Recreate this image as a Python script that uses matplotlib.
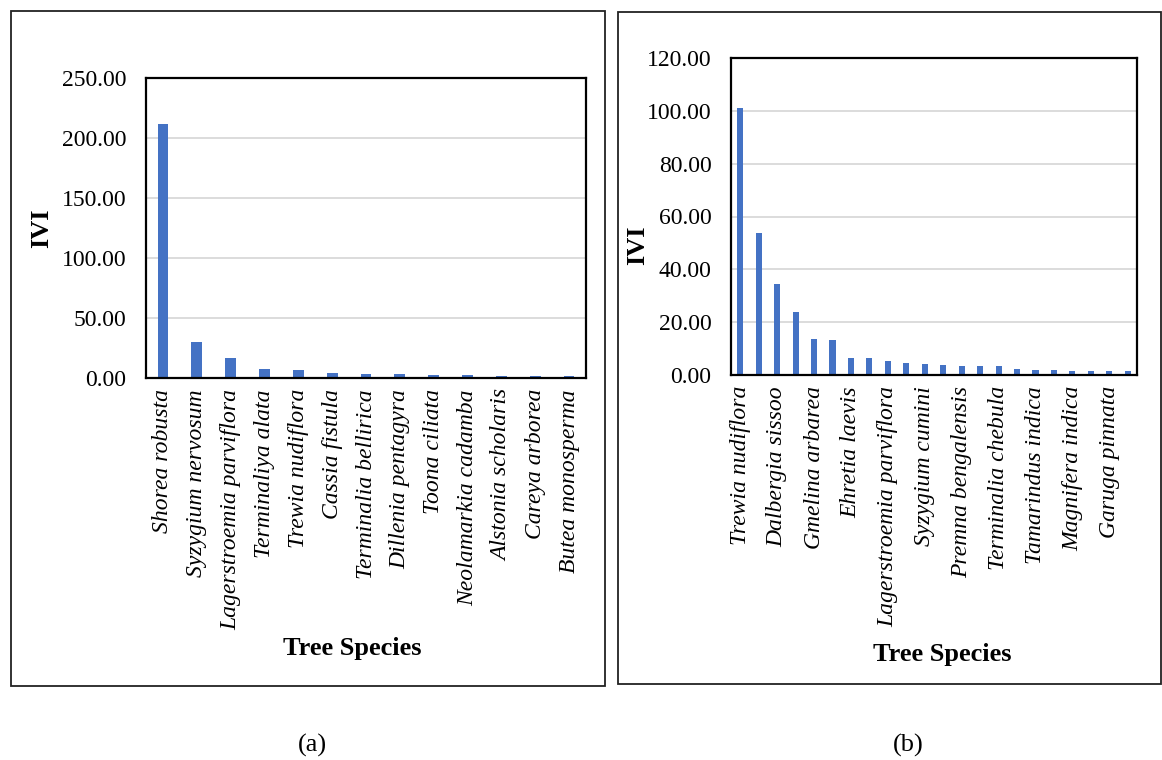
import matplotlib
matplotlib.use("Agg")
import matplotlib.pyplot as plt
from matplotlib.patches import Rectangle

plt.rcParams['font.family'] = ['Liberation Serif', 'DejaVu Serif']

species_a = ["Shorea robusta", "Syzygium nervosum", "Lagerstroemia parviflora",
             "Terminaliya alata", "Trewia nudiflora", "Cassia fistula",
             "Terminalia bellirica", "Dillenia pentagyra", "Toona ciliata",
             "Neolamarkia cadamba", "Alstonia scholaris", "Careya arborea",
             "Butea monosperma"]
ivi_a = [211.7, 30.1, 16.7, 7.8, 6.3, 4.5, 3.7, 3.7, 2.6, 2.2, 1.9, 1.9, 1.9]

# panel (b): 22 bars, only every other category label is shown
labels_b = ["Trewia nudiflora", "Dalbergia sissoo", "Gmelina arbarea",
            "Ehretia laevis", "Lagerstroemia parviflora", "Syzygium cumini",
            "Premna bengalensis", "Terminalia chebula", "Tamarindus indica",
            "Magnifera indica", "Garuga pinnata"]
ivi_b = [100.9, 53.8, 34.4, 23.7, 13.8, 13.3, 6.6, 6.3, 5.4, 4.4, 4.2,
         3.7, 3.5, 3.3, 3.3, 2.2, 1.8, 1.8, 1.6, 1.4, 1.4, 1.4]

W, H = 1162, 760
fig = plt.figure(figsize=(W/100, H/100), dpi=100)

def fx(px): return px / W
def fy(py): return 1 - py / H

# outer frames
fig.patches.append(Rectangle((fx(11), fy(686)), fx(605) - fx(11), fy(11) - fy(686),
                             transform=fig.transFigure, fill=False, lw=1.3, ec='#222222'))
fig.patches.append(Rectangle((fx(618), fy(684)), fx(1161) - fx(618), fy(12) - fy(684),
                             transform=fig.transFigure, fill=False, lw=1.3, ec='#222222'))

BAR = '#4472C4'
GRID = '#D9D9D9'

def style(ax, ymax, step):
    ax.set_ylim(0, ymax)
    ticks = [i * step for i in range(int(round(ymax / step)) + 1)]
    ax.set_yticks(ticks)
    ax.set_yticklabels([f"{t:.2f}" for t in ticks], fontsize=17)
    ax.yaxis.grid(True, color=GRID, lw=1.3)
    ax.set_axisbelow(True)
    ax.tick_params(axis='y', length=0, pad=14)
    ax.tick_params(axis='x', length=0, pad=8)
    for s in ax.spines.values():
        s.set_linewidth(1.6)
        s.set_color('black')

# panel (a)
ax1 = fig.add_axes([fx(146), fy(378), fx(586) - fx(146), fy(78) - fy(378)])
x1 = list(range(len(ivi_a)))
ax1.bar(x1, ivi_a, width=0.32, color=BAR)
ax1.set_xlim(-0.5, len(ivi_a) - 0.5)
style(ax1, 250, 50)
ax1.set_xticks(x1)
ax1.set_xticklabels(species_a, rotation=90, fontsize=17, style='italic')
fig.text(fx(42), fy(228), "IVI", rotation=90, fontsize=19, fontweight='bold',
         ha='center', va='center')
fig.text(fx(352), fy(648), "Tree Species", fontsize=19, fontweight='bold',
         ha='center', va='center')

# panel (b)
ax2 = fig.add_axes([fx(731), fy(375), fx(1137) - fx(731), fy(58) - fy(375)])
x2 = list(range(len(ivi_b)))
ax2.bar(x2, ivi_b, width=0.33, color=BAR)
ax2.set_xlim(-0.5, len(ivi_b) - 0.5)
style(ax2, 120, 20)
ax2.set_xticks(x2[::2])
ax2.set_xticklabels(labels_b, rotation=90, fontsize=17, style='italic')
fig.text(fx(638), fy(245), "IVI", rotation=90, fontsize=19, fontweight='bold',
         ha='center', va='center')
fig.text(fx(942), fy(655), "Tree Species", fontsize=19, fontweight='bold',
         ha='center', va='center')

fig.text(fx(312), fy(745), "(a)", fontsize=19, ha='center', va='center')
fig.text(fx(908), fy(745), "(b)", fontsize=19, ha='center', va='center')

fig.savefig("out.png", dpi=100, facecolor='white')
